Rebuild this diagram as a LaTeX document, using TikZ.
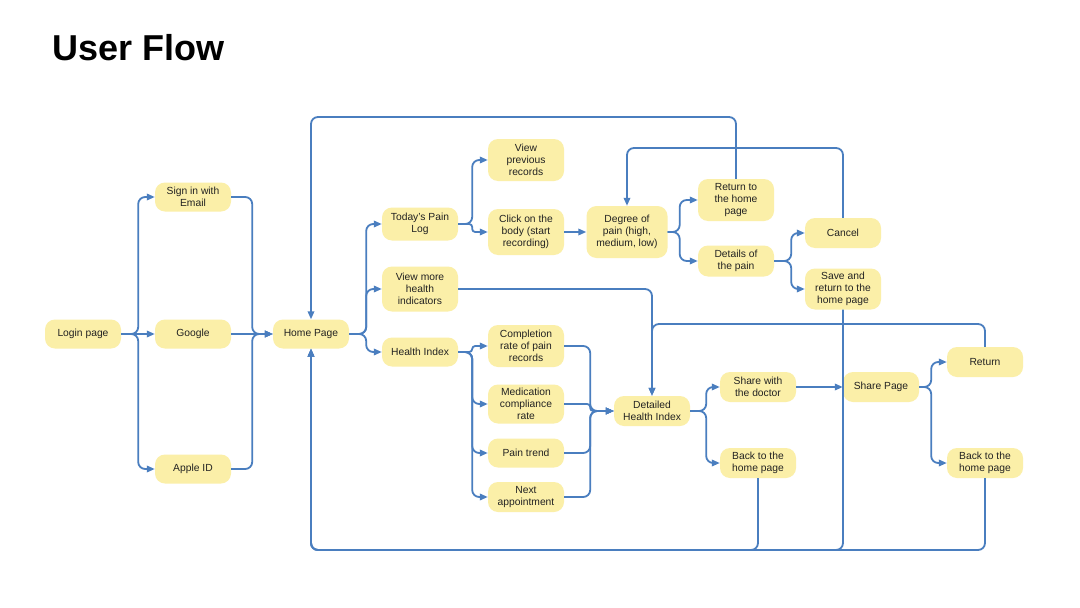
\documentclass[tikz,border=0pt]{standalone}
\usepackage{fontspec}
\setmainfont{Liberation Sans}
\usetikzlibrary{arrows.meta}
\definecolor{nodefill}{HTML}{FBEFA8}
\definecolor{linecol}{HTML}{4A7EBF}
\definecolor{txtcol}{HTML}{222222}
\begin{document}
\begin{tikzpicture}[x=1pt,y=-1pt,
  box/.style={fill=nodefill, rounded corners=10pt, minimum width=76pt, minimum height=29pt,
    align=center, text=txtcol, font=\fontsize{10.3}{11.7}\selectfont, inner xsep=2pt, inner ysep=3pt},
  conn/.style={draw=linecol, line width=1.8pt, rounded corners=7pt,
    -{Triangle[length=8pt,width=6.5pt]}},
  tight/.style={rounded corners=3pt},
  title/.style={font=\fontsize{36}{40}\selectfont\bfseries, inner sep=0pt}]
\fill[white] (0,0) rectangle (1080,608);
\useasboundingbox (0,0) rectangle (1080,608);

\node[title, anchor=base west] (ttl) at (52,60) {User Flow};

% nodes
\node[box] (login) at (83,334) {Login page};
\node[box] (email) at (193,197) {Sign in with\\Email};
\node[box] (google) at (193,334) {Google};
\node[box] (apple) at (193,469) {Apple ID};
\node[box] (home) at (311,334) {Home Page};
\node[box, minimum height=33pt] (today) at (420,224) {Today's Pain\\Log};
\node[box, minimum height=45pt] (viewmore) at (420,289) {View more\\health\\indicators};
\node[box] (hindex) at (420,352) {Health Index};
\node[box, minimum height=42pt] (prev) at (526,160) {View\\previous\\records};
\node[box, minimum height=46pt] (click) at (526,232) {Click on the\\body (start\\recording)};
\node[box, minimum width=81pt, minimum height=52pt] (degree) at (627,232) {Degree of\\pain (high,\\medium, low)};
\node[box, minimum height=42pt] (ret1) at (736,200) {Return to\\the home\\page};
\node[box, minimum height=31pt] (details) at (736,261) {Details of\\the pain};
\node[box, minimum height=30pt] (cancel) at (843,233) {Cancel};
\node[box, minimum height=41pt] (save) at (843,289) {Save and\\return to the\\home page};
\node[box, minimum height=42pt] (compl) at (526,346) {Completion\\rate of pain\\records};
\node[box, minimum height=39pt] (medic) at (526,404) {Medication\\compliance\\rate};
\node[box] (trend) at (526,453) {Pain trend};
\node[box, minimum height=30pt] (nextapp) at (526,497) {Next\\appointment};
\node[box, minimum height=30pt] (detailed) at (652,411) {Detailed\\Health Index};
\node[box, minimum height=30pt] (sharedoc) at (758,387) {Share with\\the doctor};
\node[box, minimum height=30pt] (back1) at (758,463) {Back to the\\home page};
\node[box, minimum height=30pt] (sharepage) at (881,387) {Share Page};
\node[box, minimum height=30pt] (ret2) at (985,362) {Return};
\node[box, minimum height=30pt] (back2) at (985,463) {Back to the\\home page};

% helper coordinates
\coordinate (topA) at (311,117);
\coordinate (topB) at (627,148);
\coordinate (topC) at (652,324);
\coordinate (botL) at (311,550);

% login branches
\draw[conn] (login.east) -- ++(17,0) |- (email.west);
\draw[conn] (login.east) -- (google.west);
\draw[conn] (login.east) -- ++(17,0) |- (apple.west);
% merge to home
\draw[conn] (email.east) -- ++(21,0) |- (home.west);
\draw[conn] (google.east) -- (home.west);
\draw[conn] (apple.east) -- ++(21,0) |- (home.west);
% home branches
\draw[conn] (home.east) -- ++(17,0) |- (today.west);
\draw[conn] (home.east) -- ++(17,0) |- (viewmore.west);
\draw[conn] (home.east) -- ++(17,0) |- (hindex.west);
% today's pain log
\draw[conn] (today.east) -- ++(14,0) |- (prev.west);
\draw[conn, tight] (today.east) -- ++(14,0) |- (click.west);
\draw[conn] (click.east) -- (degree.west);
% degree
\draw[conn] (degree.east) -- ++(12,0) |- (ret1.west);
\draw[conn] (degree.east) -- ++(12,0) |- (details.west);
% details
\draw[conn] (details.east) -- ++(17,0) |- (cancel.west);
\draw[conn] (details.east) -- ++(17,0) |- (save.west);
% loops
\draw[conn] (ret1.north) |- (topA) -- (home.north);
\draw[conn] (cancel.north) |- (topB) -- (degree.north);
\draw[conn] (save.south) |- (botL) -- (home.south);
\draw[conn] (back1.south) |- (botL) -- (home.south);
\draw[conn] (back2.south) |- (botL) -- (home.south);
\draw[conn] (viewmore.east) -| (detailed.north);
\draw[conn] (ret2.north) |- (topC) -- (detailed.north);
% health index branches
\draw[conn, tight] (hindex.east) -- ++(14,0) |- (compl.west);
\draw[conn] (hindex.east) -- ++(14,0) |- (medic.west);
\draw[conn] (hindex.east) -- ++(14,0) |- (trend.west);
\draw[conn] (hindex.east) -- ++(14,0) |- (nextapp.west);
% merge to detailed
\draw[conn] (compl.east) -- ++(26,0) |- (detailed.west);
\draw[conn, tight] (medic.east) -- ++(26,0) |- (detailed.west);
\draw[conn] (trend.east) -- ++(26,0) |- (detailed.west);
\draw[conn] (nextapp.east) -- ++(26,0) |- (detailed.west);
% detailed branches
\draw[conn] (detailed.east) -- ++(16,0) |- (sharedoc.west);
\draw[conn] (detailed.east) -- ++(16,0) |- (back1.west);
\draw[conn] (sharedoc.east) -- (sharepage.west);
% share page
\draw[conn] (sharepage.east) -- ++(12,0) |- (ret2.west);
\draw[conn] (sharepage.east) -- ++(12,0) |- (back2.west);
\end{tikzpicture}
\end{document}
